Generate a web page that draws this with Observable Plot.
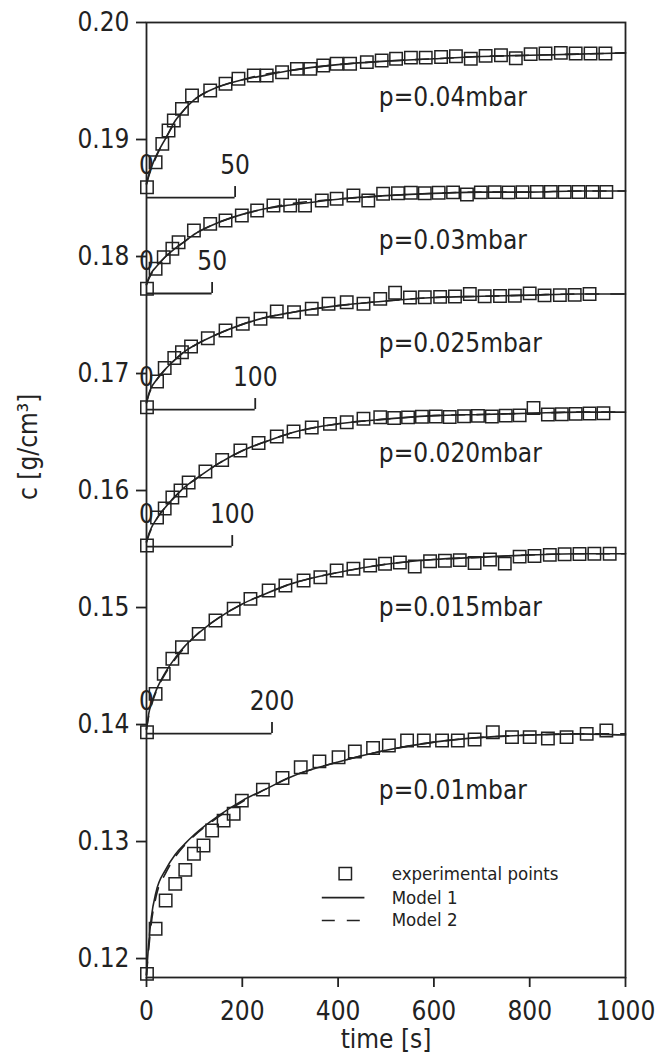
<!DOCTYPE html>
<html>
<head>
<meta charset="utf-8">
<script src="https://cdn.jsdelivr.net/npm/d3@7"></script>
<script src="https://cdn.jsdelivr.net/npm/@observablehq/plot@0.6"></script>
<style>
  html, body { margin: 0; padding: 0; background: #ffffff; }
  #chart { width: 660px; height: 1064px; }
</style>
</head>
<body>
<div id="chart"></div>
<script>
// ---- series labels ----
const seriesLabels = ["p=0.04mbar", "p=0.03mbar", "p=0.025mbar", "p=0.020mbar", "p=0.015mbar", "p=0.01mbar"];
const seriesLabelC = [0.19359, 0.18137, 0.17256, 0.16316, 0.15000, 0.13436];
const seriesLabelT = 485;

// ---- experimental points (time [s], c [g/cm3]) ----
const tA = [1,19,33,46,57,74,95,133,165,192,224,251,283,314,342,369,397,425,460,491,521,552,583,615,646,677,708,740,771,802,833,865,896,927,958];
const cA = [0.18592,0.18806,0.18963,0.19077,0.19162,0.19262,0.19376,0.19419,0.19476,0.19519,0.19547,0.19547,0.19575,0.19604,0.19604,0.19632,0.19647,0.19647,0.19661,0.19675,0.19690,0.19700,0.19700,0.19705,0.19712,0.19690,0.19715,0.19720,0.19695,0.19730,0.19735,0.19740,0.19735,0.19735,0.19735];

const tB = [1,19,36,54,67,99,133,165,199,231,265,300,331,366,397,432,463,494,525,552,581,610,640,669,698,727,756,785,815,844,873,902,931,960];
const cB = [0.17724,0.17895,0.17994,0.18066,0.18122,0.18222,0.18279,0.18308,0.18350,0.18393,0.18436,0.18436,0.18436,0.18479,0.18493,0.18521,0.18479,0.18536,0.18540,0.18545,0.18540,0.18545,0.18548,0.18530,0.18548,0.18550,0.18548,0.18550,0.18552,0.18552,0.18552,0.18552,0.18552,0.18552];

const tC = [1,22,38,58,74,93,128,165,201,238,272,308,345,380,418,453,488,519,550,581,613,644,675,706,738,769,800,831,863,894,925];
const cC = [0.16712,0.16932,0.17047,0.17132,0.17182,0.17231,0.17301,0.17368,0.17425,0.17468,0.17530,0.17524,0.17553,0.17596,0.17609,0.17596,0.17638,0.17690,0.17650,0.17652,0.17655,0.17658,0.17680,0.17660,0.17662,0.17665,0.17685,0.17668,0.17670,0.17672,0.17680];

const tD = [1,22,38,54,71,88,123,158,196,234,272,307,345,383,418,453,488,517,546,575,604,633,663,692,721,750,779,808,838,867,896,925,954];
const cD = [0.15530,0.15769,0.15846,0.15940,0.16000,0.16068,0.16162,0.16261,0.16342,0.16406,0.16462,0.16504,0.16538,0.16570,0.16584,0.16613,0.16626,0.16620,0.16625,0.16630,0.16632,0.16628,0.16635,0.16638,0.16632,0.16640,0.16642,0.16705,0.16650,0.16652,0.16655,0.16658,0.16660];

const tE = [1,19,36,54,74,109,144,182,217,255,290,328,363,397,432,467,498,529,560,592,623,654,685,717,748,779,810,842,873,904,935,967];
const cE = [0.13934,0.14262,0.14433,0.14562,0.14661,0.14775,0.14889,0.14989,0.15074,0.15145,0.15188,0.15231,0.15259,0.15316,0.15331,0.15359,0.15374,0.15385,0.15350,0.15395,0.15400,0.15405,0.15380,0.15410,0.15375,0.15435,0.15440,0.15450,0.15455,0.15458,0.15460,0.15460];

const tF = [1,19,40,60,81,99,119,137,161,182,199,243,284,322,361,401,435,473,506,544,579,617,650,685,723,763,800,838,877,919,960];
const cF = [0.11869,0.12254,0.12496,0.12638,0.12758,0.12895,0.12966,0.13094,0.13179,0.13237,0.13350,0.13444,0.13543,0.13635,0.13685,0.13721,0.13769,0.13799,0.13821,0.13863,0.13863,0.13863,0.13863,0.13872,0.13934,0.13892,0.13892,0.13880,0.13892,0.13920,0.13949];

// ---- model curves, read at these times ----
const modelT = [0,5,10,20,40,60,80,100,150,200,250,300,400,500,600,700,800,900,1000];
const model1A = [0.1862,0.1870,0.1876,0.1886,0.1901,0.1916,0.1926,0.1934,0.1945,0.1951,0.1955,0.1959,0.1964,0.1967,0.1969,0.1971,0.1972,0.1973,0.1974];
const model1B = [0.1776,0.1782,0.1786,0.1791,0.1800,0.1807,0.1813,0.1819,0.1829,0.1836,0.1841,0.1844,0.1849,0.1852,0.1854,0.1855,0.1855,0.1856,0.1856];
const model1C = [0.1675,0.1683,0.1688,0.1694,0.1704,0.1712,0.1719,0.1724,0.1734,0.1742,0.1748,0.1752,0.1758,0.1762,0.1765,0.1766,0.1767,0.1768,0.1768];
const model1D = [0.1556,0.1563,0.1568,0.1575,0.1586,0.1595,0.1603,0.1609,0.1623,0.1634,0.1642,0.1649,0.1657,0.1661,0.1664,0.1665,0.1666,0.1667,0.1667];
const model1E = [0.1396,0.1410,0.1418,0.1429,0.1445,0.1457,0.1467,0.1475,0.1491,0.1503,0.1512,0.1520,0.1530,0.1537,0.1541,0.1543,0.1545,0.1546,0.1546];
const model1F = [0.1186,0.1215,0.1235,0.1257,0.1276,0.1289,0.1298,0.1306,0.1322,0.1335,0.1345,0.1355,0.1368,0.1378,0.1385,0.1389,0.1391,0.1392,0.1391];

const model2A = [0.1862,0.1869,0.1875,0.1885,0.1901,0.1915,0.1926,0.1934,0.1945,0.1951,0.1956,0.1959,0.1964,0.1967,0.1969,0.1971,0.1972,0.1973,0.1974];
const model2B = [0.1776,0.1781,0.1785,0.1791,0.1800,0.1807,0.1813,0.1819,0.1829,0.1836,0.1841,0.1845,0.1849,0.1852,0.1854,0.1855,0.1855,0.1856,0.1856];
const model2C = [0.1675,0.1682,0.1687,0.1694,0.1704,0.1712,0.1719,0.1724,0.1734,0.1742,0.1748,0.1752,0.1758,0.1762,0.1765,0.1766,0.1767,0.1768,0.1768];
const model2D = [0.1556,0.1562,0.1567,0.1575,0.1586,0.1595,0.1603,0.1609,0.1623,0.1634,0.1642,0.1649,0.1657,0.1661,0.1664,0.1665,0.1666,0.1667,0.1667];
const model2E = [0.1396,0.1408,0.1416,0.1428,0.1444,0.1456,0.1466,0.1475,0.1491,0.1503,0.1512,0.1520,0.1530,0.1537,0.1541,0.1543,0.1545,0.1546,0.1546];
const model2F = [0.1186,0.1210,0.1230,0.1253,0.1273,0.1287,0.1297,0.1305,0.1321,0.1334,0.1345,0.1355,0.1368,0.1378,0.1385,0.1389,0.1391,0.1392,0.1392];

// ---- per-curve scale bars ("0" ... "50") ----
const barBase = [0.18504, 0.17684, 0.16692, 0.15521, 0.13923];
const barEnd = [185, 137, 227, 179, 262];
const barText = ["50", "50", "100", "100", "200"];

// ---- axes ----
const xTicks = [0, 200, 400, 600, 800, 1000];
const yTicks = [0.12, 0.13, 0.14, 0.15, 0.16, 0.17, 0.18, 0.19, 0.20];

// ---- legend ----
const legendLabels = ["experimental points", "Model 1", "Model 2"];
const legendC = [0.12726, 0.12521, 0.12325];
const legendSymbolT = 415;
const legendLineT = [367, 456];
const legendTextT = 512;

// ---- build tables ----
const pointSets = [[tA, cA], [tB, cB], [tC, cC], [tD, cD], [tE, cE], [tF, cF]];
const points = [];
pointSets.forEach(([ts, cs], k) => ts.forEach((t, i) => points.push({series: seriesLabels[k], t, c: cs[i]})));

const m1Sets = [model1A, model1B, model1C, model1D, model1E, model1F];
const m2Sets = [model2A, model2B, model2C, model2D, model2E, model2F];
const model1 = [], model2 = [];
m1Sets.forEach((cs, k) => modelT.forEach((t, i) => model1.push({series: seriesLabels[k], t, c: cs[i]})));
m2Sets.forEach((cs, k) => modelT.forEach((t, i) => model2.push({series: seriesLabels[k], t, c: cs[i]})));

const bars = barBase.map((b, i) => ({base: b, end: barEnd[i], label: barText[i]}));
const labels = seriesLabels.map((s, i) => ({text: s, c: seriesLabelC[i]}));

const ink = "#222222";
const FONT = '"DejaVu Sans Condensed", "DejaVu Sans", sans-serif';

const chart = Plot.plot({
  width: 660,
  height: 1064,
  marginLeft: 146,
  marginRight: 35,
  marginTop: 22,
  marginBottom: 87,
  x: {domain: [0, 1000]},
  y: {domain: [0.11838, 0.20]},
  style: {fontFamily: FONT, fontSize: "26px", background: "#ffffff", color: ink},
  marks: [
    Plot.frame({stroke: ink, strokeWidth: 1.8}),
    Plot.axisX({ticks: xTicks, tickSize: 10, tickPadding: 14, strokeWidth: 1.8, label: null, fontSize: 26, stroke: ink,
                tickFormat: d => String(d)}),
    Plot.axisY({ticks: yTicks, tickSize: 10, tickPadding: 7, strokeWidth: 1.8, label: null, fontSize: 26, stroke: ink,
                tickFormat: d => d.toFixed(2)}),
    // scale bars
    Plot.ruleY(bars, {y: "base", x1: 0, x2: "end", stroke: ink, strokeWidth: 1.8}),
    Plot.ruleX(bars, {x: "end", y1: "base", y2: d => d.base + 0.00094, stroke: ink, strokeWidth: 1.8}),
    Plot.text(bars, {x: "end", y: "base", text: "label", dy: -32, fill: ink, fontSize: 26}),
    Plot.text(bars, {x: 0, y: "base", text: () => "0", dy: -32, fill: ink, fontSize: 26}),
    // models
    Plot.line(model1, {x: "t", y: "c", z: "series", stroke: ink, strokeWidth: 1.6, curve: "monotone-x"}),
    Plot.line(model2, {x: "t", y: "c", z: "series", stroke: ink, strokeWidth: 1.6, curve: "monotone-x", strokeDasharray: "13,12"}),
    // experimental points
    Plot.dot(points, {x: "t", y: "c", symbol: "square", r: 7, stroke: ink, fill: "none", strokeWidth: 1.5}),
    // series labels
    Plot.text(labels, {x: seriesLabelT, y: "c", text: "text", textAnchor: "start", fill: ink, fontSize: 26}),
    // legend
    Plot.dot([legendC[0]], {x: legendSymbolT, y: d => d, symbol: "square", r: 7, stroke: ink, fill: "none", strokeWidth: 1.5}),
    Plot.ruleY([legendC[1]], {y: d => d, x1: legendLineT[0], x2: legendLineT[1], stroke: ink, strokeWidth: 1.6}),
    Plot.ruleY([legendC[2]], {y: d => d, x1: legendLineT[0], x2: legendLineT[1], stroke: ink, strokeWidth: 1.6, strokeDasharray: "13,12"}),
    Plot.text(legendLabels, {x: legendTextT, y: (d, i) => legendC[i], text: d => d, textAnchor: "start", fill: ink, fontSize: 18.5}),
    // axis titles
    Plot.text(["time [s]"], {frameAnchor: "bottom", dy: 70, text: d => d, fill: ink, fontSize: 26}),
    Plot.text(["c [g/cm³]"], {frameAnchor: "left", dx: -118, rotate: -90, text: d => d, fill: ink, fontSize: 26})
  ]
});
document.getElementById("chart").appendChild(chart);
</script>
</body>
</html>
